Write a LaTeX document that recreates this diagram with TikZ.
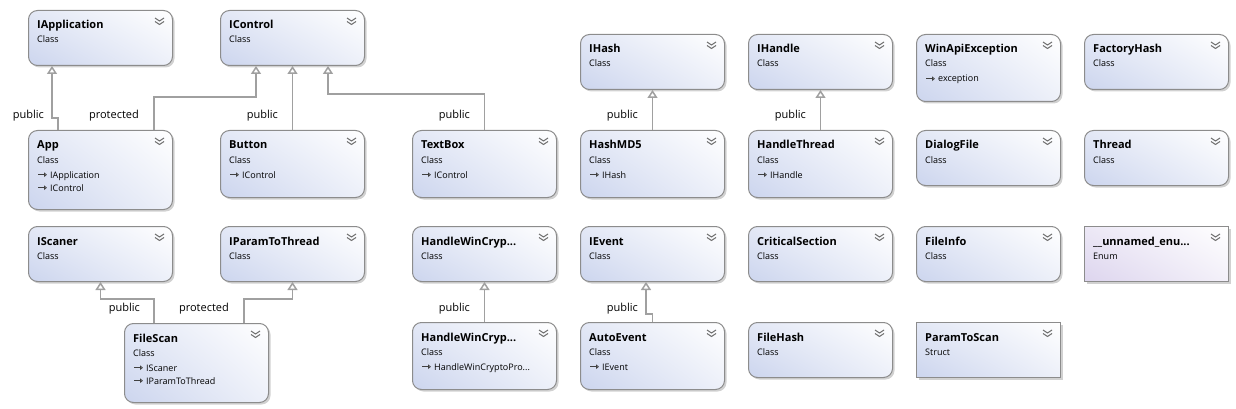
\documentclass[tikz,border=0pt]{standalone}
\usepackage{fontspec}
\setmainfont{Open Sans}
\usetikzlibrary{arrows.meta,shadows,shadings}

\definecolor{boxblue}{RGB}{204,213,238}
\definecolor{enumlilac}{RGB}{221,213,238}
\definecolor{boxedge}{RGB}{140,140,140}
\definecolor{linkgray}{RGB}{160,160,160}

\newcommand\umlbox[7][classbox]{%
  \node[#1, minimum height=#5pt] (#2) at (#3,#4) {};
  \node[titletext] (#2-title) at ([xshift=9pt,yshift=-19pt]#2.north west) {#6};
  \node[kindtext] (#2-kind) at ([xshift=9pt,yshift=-33pt]#2.north west) {#7};
  \draw[chevron] ([xshift=-18pt,yshift=-8pt]#2.north east) -- ++(4.5,3) -- ++(4.5,-3)
                 ([xshift=-18pt,yshift=-11.5pt]#2.north east) -- ++(4.5,3) -- ++(4.5,-3);
}
\newcommand\umlmember[3]{%
  \node[membertext] (#1-m#2) at ([xshift=22pt,yshift={-(35+13*#2)*1pt}]#1.north west) {#3};
  \draw[memberarrow] ([xshift=-12pt,yshift=3.3pt]#1-m#2.base west) -- ++(9,0);
}

\begin{document}
\begin{tikzpicture}[x=1pt,y=-1pt,
                    classbox/.style={draw=boxedge, line width=1pt, rounded corners=9pt,
                                     anchor=north west, minimum width=144pt,
                                     lower left=boxblue, upper left=boxblue!55!white,
                                     lower right=boxblue!35!white, upper right=white,
                                     drop shadow={shadow xshift=2pt,shadow yshift=-2pt,fill=black,opacity=0.18}},
                    enumbox/.style={classbox, rounded corners=0pt,
                                    lower left=enumlilac, upper left=enumlilac!55!white,
                                    lower right=enumlilac!35!white, upper right=white},
                    structbox/.style={classbox, rounded corners=0pt},
                    titletext/.style={anchor=base west, inner sep=0pt, font=\fontsize{11}{13}\selectfont\bfseries},
                    kindtext/.style={anchor=base west, inner sep=0pt, font=\fontsize{9}{11}\selectfont},
                    membertext/.style={anchor=base west, inner sep=0pt, font=\fontsize{9}{11}\selectfont},
                    lbl/.style={anchor=base east, inner sep=0pt, font=\fontsize{11}{13}\selectfont},
                    chevron/.style={draw=black!55, line width=1pt},
                    memberarrow/.style={draw=black!75, line width=0.8pt, -{Triangle[open,length=3pt,width=4.5pt]}},
                    inherit/.style={draw=linkgray, line width=1.5pt,
                                    -{Triangle[length=8pt,width=10pt,fill=white]}}]

  \useasboundingbox (0,0) rectangle (1236,409);

  % first row
  \umlbox{iapp}{28}{10}{55}{IApplication}{Class}
  \umlbox{icontrol}{220}{10}{55}{IControl}{Class}
  \umlbox{ihash}{580}{34}{55}{IHash}{Class}
  \umlbox{ihandle}{748}{34}{55}{IHandle}{Class}
  \umlbox{winapi}{916}{34}{67}{WinApiException}{Class}
  \umlmember{winapi}{1}{exception}
  \umlbox{factory}{1084}{34}{55}{FactoryHash}{Class}

  \umlbox{app}{28}{130}{79}{App}{Class}
  \umlmember{app}{1}{IApplication}
  \umlmember{app}{2}{IControl}
  \umlbox{button}{220}{130}{67}{Button}{Class}
  \umlmember{button}{1}{IControl}
  \umlbox{textbox}{412}{130}{67}{TextBox}{Class}
  \umlmember{textbox}{1}{IControl}
  \umlbox{hashmd5}{580}{130}{67}{HashMD5}{Class}
  \umlmember{hashmd5}{1}{IHash}
  \umlbox{hthread}{748}{130}{67}{HandleThread}{Class}
  \umlmember{hthread}{1}{IHandle}
  \umlbox{dialog}{916}{130}{55}{DialogFile}{Class}
  \umlbox{thread}{1084}{130}{55}{Thread}{Class}

  % second row
  \umlbox{iscaner}{28}{226}{55}{IScaner}{Class}
  \umlbox{iparam}{220}{226}{55}{IParamToThread}{Class}
  \umlbox{hwcbase}{412}{226}{55}{HandleWinCryp...}{Class}
  \umlbox{ievent}{580}{226}{55}{IEvent}{Class}
  \umlbox{critsec}{748}{226}{55}{CriticalSection}{Class}
  \umlbox{fileinfo}{916}{226}{55}{FileInfo}{Class}
  \umlbox[enumbox]{unnamed}{1084}{226}{55}{\_\_unnamed\_enu...}{Enum}

  \umlbox{filescan}{124}{323}{79}{FileScan}{Class}
  \umlmember{filescan}{1}{IScaner}
  \umlmember{filescan}{2}{IParamToThread}
  \umlbox{hwc}{412}{322}{67}{HandleWinCryp...}{Class}
  \umlmember{hwc}{1}{HandleWinCryptoPro...}
  \umlbox{autoevent}{580}{322}{67}{AutoEvent}{Class}
  \umlmember{autoevent}{1}{IEvent}
  \umlbox{filehash}{748}{322}{55}{FileHash}{Class}
  \umlbox[structbox]{paramscan}{916}{322}{55}{ParamToScan}{Struct}

  % inheritance
  \draw[inherit] ([xshift=30pt]app.north west) -- ++(0,-12) -| ([xshift=24pt]iapp.south west);
  \draw[inherit] ([xshift=126pt]app.north west) -- ++(0,-33) -| ([xshift=36pt]icontrol.south west);
  \draw[inherit] (button.north) -- (icontrol.south);
  \draw[inherit] (textbox.north) -- ++(0,-36) -| ([xshift=108pt]icontrol.south west);
  \draw[inherit] (hashmd5.north) -- (ihash.south);
  \draw[inherit] (hthread.north) -- (ihandle.south);
  \draw[inherit] ([xshift=30pt]filescan.north west) -- ++(0,-24) -| (iscaner.south);
  \draw[inherit] ([xshift=120pt]filescan.north west) -- ++(0,-24) -| (iparam.south);
  \draw[inherit] (hwc.north) -- (hwcbase.south);
  \draw[inherit] (autoevent.north) -- ++(0,-8) -| ([xshift=66pt]ievent.south west);

  \node[lbl] (l-app-iapp) at (44,119) {public};
  \node[lbl] (l-app-icontrol) at (139,119) {protected};
  \node[lbl] (l-button) at (278,119) {public};
  \node[lbl] (l-textbox) at (470,119) {public};
  \node[lbl] (l-hashmd5) at (638,119) {public};
  \node[lbl] (l-hthread) at (806,119) {public};
  \node[lbl] (l-fs-iscaner) at (140,311) {public};
  \node[lbl] (l-fs-iparam) at (229,311) {protected};
  \node[lbl] (l-hwc) at (470,311) {public};
  \node[lbl] (l-autoevent) at (638,311) {public};
\end{tikzpicture}
\end{document}
